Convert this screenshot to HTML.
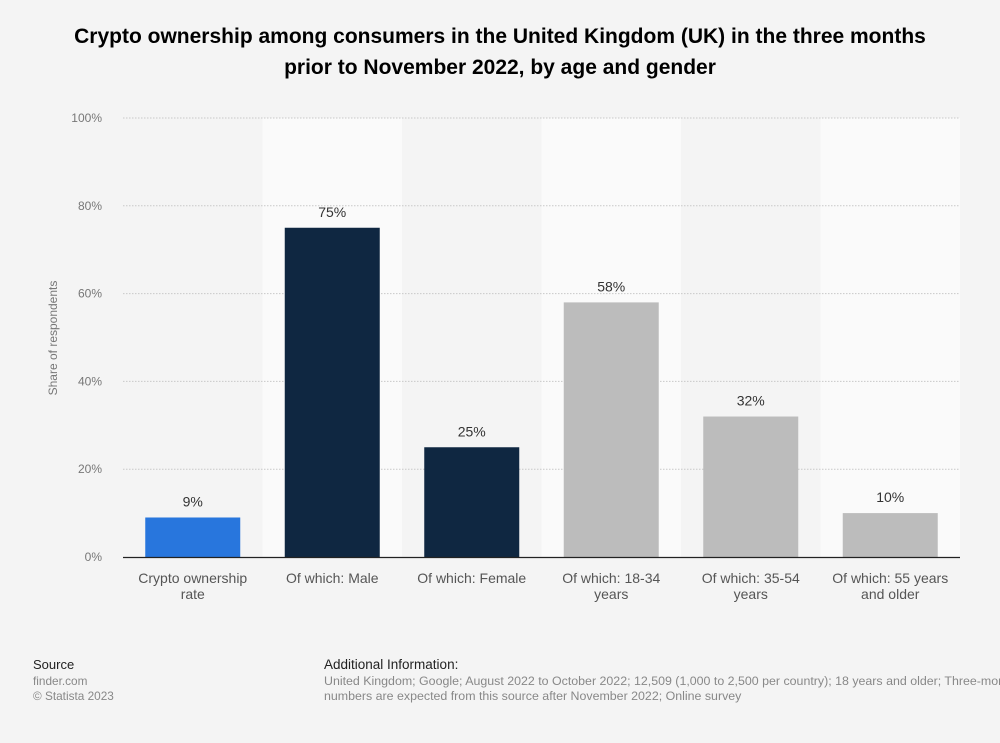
<!DOCTYPE html>
<html><head><meta charset="utf-8"><style>
body{margin:0;background:#f4f4f4;font-family:"Liberation Sans",Arial,sans-serif;}
#wrap{position:relative;width:1000px;height:743px;overflow:hidden;background:#f4f4f4;}
.t{position:absolute;white-space:nowrap;}
</style></head><body>
<div id="wrap">
<div class="t" style="left:0;width:1000px;top:21px;text-align:center;font-weight:bold;font-size:21px;line-height:31px;color:#000;">Crypto ownership among consumers in the United Kingdom (UK) in the three months<br>prior to November 2022, by age and gender</div>
<svg id="chart" width="1000" height="743" style="position:absolute;left:0;top:0"></svg>
<div class="t" style="left:33px;top:657px;font-size:13px;color:#222;">Source</div>
<div class="t" style="left:33px;top:674px;font-size:11.8px;line-height:15px;color:#888;">finder.com<br>© Statista 2023</div>
<div class="t" style="left:324px;top:657px;font-size:13.5px;color:#222;">Additional Information:</div>
<div class="t" style="left:324px;top:674px;font-size:12.4px;line-height:15px;color:#888;">United Kingdom; Google; August 2022 to October 2022; 12,509 (1,000 to 2,500 per country); 18 years and older; Three-monthly<br>numbers are expected from this source after November 2022; Online survey</div>
</div>
<script>
const categories=[["Crypto ownership","rate"],["Of which: Male"],["Of which: Female"],["Of which: 18-34","years"],["Of which: 35-54","years"],["Of which: 55 years","and older"]];
const values=[9,75,25,58,32,10];
const valueLabels=["9%","75%","25%","58%","32%","10%"];
const colors=["#2876dd","#0f2741","#0f2741","#bcbcbc","#bcbcbc","#bcbcbc"];
const ticks=[0,20,40,60,80,100];
const tickLabels=["0%","20%","40%","60%","80%","100%"];
const NS="http://www.w3.org/2000/svg";
const svg=document.getElementById('chart');
const X0=123,X1=960,Y0=557,Y1=118;
const bw=(X1-X0)/categories.length;
const y=v=>Y0-(v/100)*(Y0-Y1);
const xb=i=>X0+i*bw;
function mk(t,a){const e=document.createElementNS(NS,t);for(const k in a)e.setAttribute(k,a[k]);svg.appendChild(e);return e;}
categories.forEach((c,i)=>{if(i%2==1){const r=mk('rect',{x:xb(i),y:Y1,width:bw,height:Y0-Y1,fill:'#fafafa'});

}});
ticks.forEach((t,i)=>{
 if(t>0){const l=mk('line',{x1:X0,x2:X1,y1:y(t),y2:y(t),stroke:'#c8c8c8','stroke-dasharray':'1.5,1.5'});
 
 }
 const tx=mk('text',{x:102,y:y(t)+4,'text-anchor':'end','font-size':'12',fill:'#777'});tx.textContent=tickLabels[i];
 
 
});
const yt=mk('text',{x:0,y:0,transform:'translate(57,338) rotate(-90)','text-anchor':'middle','font-size':'12',fill:'#777'});yt.textContent='Share of respondents';


values.forEach((v,i)=>{
 const cx=xb(i)+bw/2,w=95;
 const b=mk('rect',{x:cx-w/2,y:y(v),width:w,height:Y0-y(v),fill:colors[i]});
 
 
 const vl=mk('text',{x:cx,y:y(v)-11,'text-anchor':'middle','font-size':'14',fill:'#333'});vl.textContent=valueLabels[i];
 
 
 categories[i].forEach((ln,j)=>{const t=mk('text',{x:cx,y:583+j*16,'text-anchor':'middle','font-size':'14',fill:'#555'});t.textContent=ln;
 
 });
});
const ax=mk('line',{x1:X0,x2:X1,y1:Y0+0.5,y2:Y0+0.5,stroke:'#222','stroke-width':1.3});


</script>
</body></html>
